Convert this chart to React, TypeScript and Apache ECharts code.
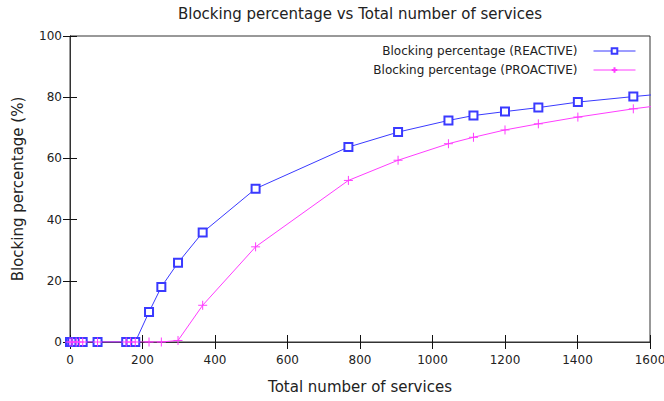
import React, { useEffect, useRef } from "react";
import * as echarts from "echarts";

const xValues = [0, 6, 17, 26, 35, 76, 155, 167, 180, 218, 252, 298, 366, 512, 768, 905, 1044, 1113, 1200, 1292, 1401, 1554, 1700];
const reactive = [0, 0, 0, 0, 0, 0, 0, 0, 0, 9.8, 18.0, 25.9, 35.8, 50.1, 63.7, 68.6, 72.4, 74.0, 75.3, 76.6, 78.4, 80.2, 81.8];
const proactive = [0, 0, 0, 0, 0, 0, 0, 0, 0, 0, 0, 0.5, 12.0, 31.1, 52.8, 59.4, 64.8, 66.9, 69.3, 71.3, 73.5, 76.2, 78.4];
const seriesNames = ["Blocking percentage (REACTIVE)", "Blocking percentage (PROACTIVE)"];
const titleText = "Blocking percentage vs Total number of services";
const xName = "Total number of services";
const yName = "Blocking percentage (%)";

const BLUE = "#3a3aff";
const MAG = "#ff3cff";
const FONT = "DejaVu Sans";
const TXT = "#222";

export default function App() {
  const ref = useRef<HTMLDivElement>(null);
  useEffect(() => {
    if (!ref.current) return;
    const chart = echarts.init(ref.current, undefined, { renderer: "svg" });
    const tick = { show: true, inside: true, length: 7, lineStyle: { color: "#111", width: 1 } };
    const axLine = { show: true, lineStyle: { color: "#333", width: 1 } };
    chart.setOption({
      animation: false,
      backgroundColor: "#fff",
      textStyle: { fontFamily: FONT },
      title: {
        text: titleText,
        left: 360,
        textAlign: "center",
        top: 6,
        padding: 0,
        textStyle: { fontFamily: FONT, fontSize: 15, fontWeight: "normal", color: TXT },
      },
      legend: {
        orient: "vertical",
        right: 28,
        top: 45,
        padding: 0,
        align: "right",
        itemWidth: 42,
        itemHeight: 7,
        itemGap: 7,
        lineStyle: { width: 1 },
        textStyle: { fontFamily: FONT, fontSize: 12, color: TXT, padding: [0, 11, 0, 0] },
        data: seriesNames,
      },
      grid: {
        left: 70,
        right: 14,
        top: 36,
        bottom: 59,
        show: true,
        borderColor: "#333",
        borderWidth: 1,
        containLabel: false,
        outerBoundsMode: "none",
      },
      xAxis: [
        {
          type: "value",
          min: 0,
          max: 1600,
          interval: 200,
          name: xName,
          nameLocation: "middle",
          nameGap: 37,
          nameTextStyle: { fontFamily: FONT, fontSize: 15, color: TXT },
          axisLine: axLine,
          axisTick: tick,
          axisLabel: { fontFamily: FONT, fontSize: 12, color: TXT, margin: 12, formatter: (v: number) => String(v) },
          splitLine: { show: false },
        },
        {
          type: "value",
          position: "top",
          min: 0,
          max: 1600,
          interval: 200,
          axisLine: axLine,
          axisTick: tick,
          axisLabel: { show: false },
          splitLine: { show: false },
        },
      ],
      yAxis: [
        {
          type: "value",
          min: 0,
          max: 100,
          interval: 20,
          name: yName,
          nameLocation: "middle",
          nameGap: 45,
          nameTextStyle: { fontFamily: FONT, fontSize: 15, color: TXT },
          axisLine: axLine,
          axisTick: tick,
          axisLabel: { fontFamily: FONT, fontSize: 12, color: TXT, margin: 8 },
          splitLine: { show: false },
        },
        {
          type: "value",
          position: "right",
          min: 0,
          max: 100,
          interval: 20,
          axisLine: axLine,
          axisTick: tick,
          axisLabel: { show: false },
          splitLine: { show: false },
        },
      ],
      series: [
        {
          name: seriesNames[0],
          type: "line",
          xAxisIndex: 0,
          yAxisIndex: 0,
          data: xValues.map((x, i) => [x, reactive[i]]),
          symbol: "emptyRect",
          symbolSize: 8,
          clip: true,
          lineStyle: { color: BLUE, width: 1 },
          itemStyle: { color: BLUE, borderColor: BLUE, borderWidth: 1 },
        },
        {
          name: seriesNames[1],
          type: "line",
          xAxisIndex: 0,
          yAxisIndex: 0,
          data: xValues.map((x, i) => [x, proactive[i]]),
          symbol: "path://M0,4L8,4M4,0L4,8",
          symbolSize: 9,
          clip: true,
          lineStyle: { color: MAG, width: 1 },
          itemStyle: { color: MAG, borderColor: MAG, borderWidth: 1 },
        },
      ],
    });
    return () => chart.dispose();
  }, []);
  return <div ref={ref} style={{ position: "fixed", left: 0, top: 0, width: 664, height: 401 }} />;
}
